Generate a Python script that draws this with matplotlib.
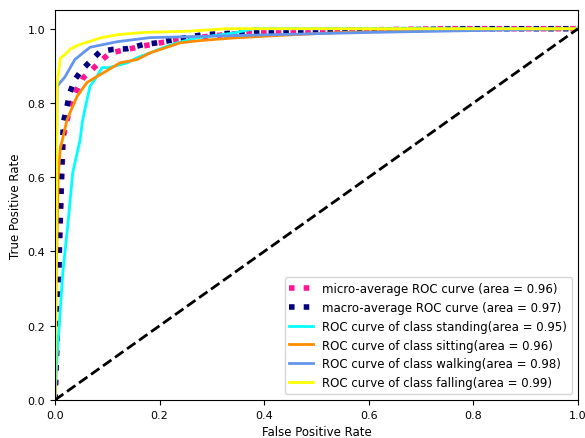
import numpy as np
import matplotlib
matplotlib.use('Agg')
import matplotlib.pyplot as plt

# ROC points
micro_fpr = [0.0, 0.004, 0.009, 0.013, 0.016, 0.029, 0.042, 0.054, 0.071, 0.086, 0.105, 0.138, 0.163, 0.182, 0.201, 0.239, 0.296, 0.373, 0.5, 0.75, 1.0]
micro_tpr = [0.0, 0.16, 0.43, 0.61, 0.71, 0.79, 0.836, 0.868, 0.89, 0.911, 0.935, 0.944, 0.952, 0.957, 0.962, 0.97, 0.98, 0.99, 0.995, 1.0, 1.0]

macro_fpr = [0.0, 0.004, 0.009, 0.013, 0.016, 0.029, 0.038, 0.052, 0.071, 0.086, 0.109, 0.138, 0.168, 0.195, 0.226, 0.283, 0.367, 0.55, 0.8, 1.0]
macro_tpr = [0.0, 0.18, 0.45, 0.63, 0.747, 0.83, 0.863, 0.89, 0.917, 0.938, 0.944, 0.946, 0.957, 0.962, 0.97, 0.984, 0.99, 0.995, 1.0, 1.0]

standing_fpr = [0.0, 0.004, 0.015, 0.025, 0.034, 0.048, 0.052, 0.057, 0.067, 0.08, 0.090, 0.103, 0.138, 0.157, 0.182, 0.207, 0.233, 0.27, 0.34, 0.38, 1.0]
standing_tpr = [0.0, 0.118, 0.344, 0.478, 0.613, 0.70, 0.747, 0.782, 0.845, 0.871, 0.895, 0.895, 0.908, 0.922, 0.935, 0.949, 0.962, 0.975, 0.988, 1.0, 1.0]

sitting_fpr = [0.0, 0.002, 0.006, 0.01, 0.023, 0.042, 0.061, 0.086, 0.109, 0.124, 0.157, 0.182, 0.214, 0.239, 0.277, 0.34, 0.43, 0.55, 0.8, 1.0]
sitting_tpr = [0.0, 0.3, 0.6, 0.675, 0.755, 0.817, 0.855, 0.876, 0.895, 0.908, 0.917, 0.935, 0.95, 0.962, 0.968, 0.975, 0.982, 0.99, 0.997, 1.0]

walking_fpr = [0.0, 0.002, 0.004, 0.019, 0.038, 0.067, 0.119, 0.182, 0.3, 0.45, 0.6, 0.8, 0.99, 1.0]
walking_tpr = [0.0, 0.5, 0.845, 0.87, 0.917, 0.95, 0.965, 0.976, 0.98, 0.985, 0.99, 0.995, 1.0, 1.0]

falling_fpr = [0.0, 0.002, 0.004, 0.01, 0.019, 0.029, 0.048, 0.067, 0.086, 0.12, 0.17, 0.25, 0.33, 0.5, 1.0]
falling_tpr = [0.0, 0.3, 0.85, 0.92, 0.93, 0.945, 0.958, 0.966, 0.975, 0.984, 0.99, 0.993, 1.0, 1.0, 1.0]

class_names = ['standing', 'sitting', 'walking', 'falling']
class_areas = [0.95, 0.96, 0.98, 0.99]
class_colors = ['aqua', 'darkorange', 'cornflowerblue', 'yellow']
class_fpr = [standing_fpr, sitting_fpr, walking_fpr, falling_fpr]
class_tpr = [standing_tpr, sitting_tpr, walking_tpr, falling_tpr]
micro_area = 0.96
macro_area = 0.97

fig = plt.figure(figsize=(5.85, 4.39), dpi=100)
ax = fig.add_axes([0.094, 0.0866, 0.894, 0.888])

ax.plot(micro_fpr, micro_tpr,
        label='micro-average ROC curve (area = {0:0.2f})'.format(micro_area),
        color='deeppink', linestyle=':', linewidth=4)
ax.plot(macro_fpr, macro_tpr,
        label='macro-average ROC curve (area = {0:0.2f})'.format(macro_area),
        color='navy', linestyle=':', linewidth=4)

for name, area, color, fpr, tpr in zip(class_names, class_areas, class_colors, class_fpr, class_tpr):
    ax.plot(fpr, tpr, color=color, lw=2,
            label='ROC curve of class {0}(area = {1:0.2f})'.format(name, area))

ax.plot([0, 1], [0, 1], 'k--', lw=2)
ax.set_xlim([0.0, 1.0])
ax.set_ylim([0.0, 1.05])
ax.set_xlabel('False Positive Rate', fontsize=8.5)
ax.set_ylabel('True Positive Rate', fontsize=8.5)
ax.tick_params(labelsize=8)
ax.legend(loc='lower right', fontsize=8.5)

fig.savefig('out.png', dpi=100)
